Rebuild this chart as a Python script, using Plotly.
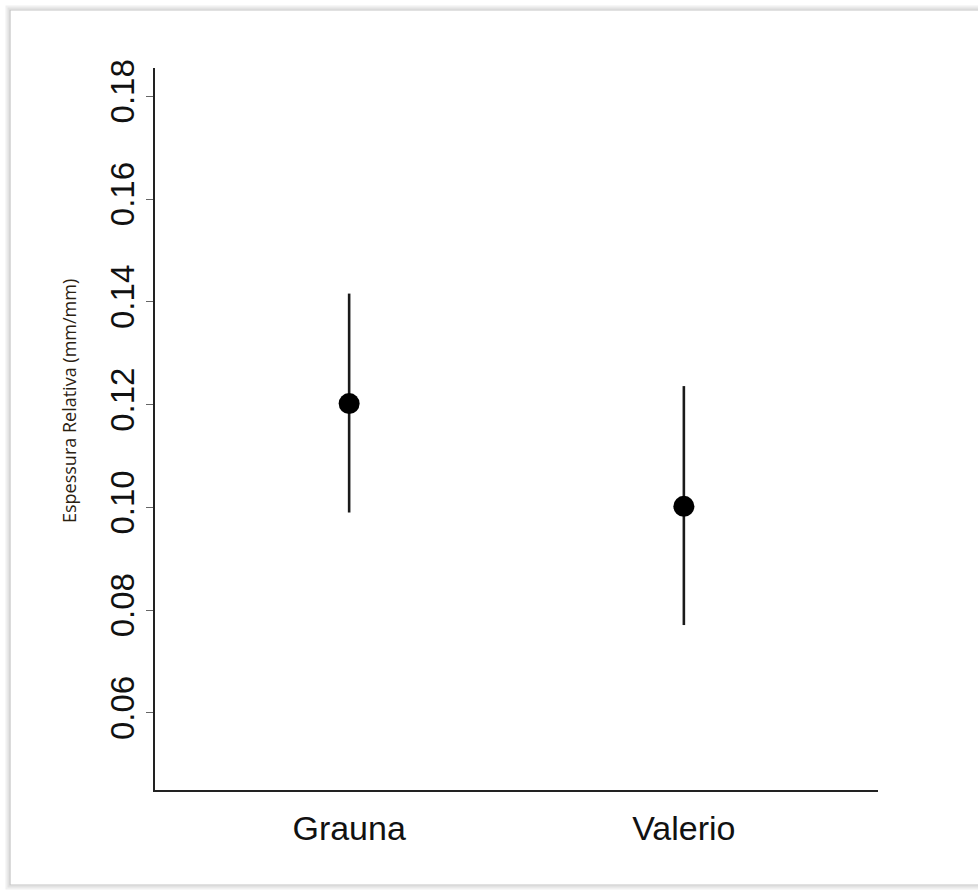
import plotly.graph_objects as go

# Data
categories = ["Grauna", "Valerio"]
means = [0.1202, 0.1002]
upper = [0.1416, 0.1236]
lower = [0.0990, 0.0771]
y_ticks = [0.06, 0.08, 0.10, 0.12, 0.14, 0.16, 0.18]
y_tick_text = ["0.06", "0.08", "0.10", "0.12", "0.14", "0.16", "0.18"]
y_title = "Espessura Relativa (mm/mm)"

err_plus = [u - m for u, m in zip(upper, means)]
err_minus = [m - l for m, l in zip(means, lower)]

W, H = 978, 890
L, R, T, B = 155, 100, 68, 100
pw, ph = W - L - R, H - T - B

def px(x):
    return (x - L) / pw

def py(y):
    return (H - B - y) / ph

fig = go.Figure()
fig.add_trace(go.Scatter(
    x=[0, 1], y=means,
    mode="markers",
    marker=dict(size=21, color="black"),
    error_y=dict(type="data", symmetric=False, array=err_plus, arrayminus=err_minus,
                 thickness=2.6, width=0, color="#1a1a1a"),
    showlegend=False,
))

# frame with soft shadow
for off, col, w in [(3, "#f0f0f0", 3), (1.5, "#e2e2e2", 2), (0, "#c4c4c4", 1.2)]:
    fig.add_shape(type="rect", xref="paper", yref="paper",
                  x0=px(10 - off), x1=px(995), y0=py(885 + off), y1=py(10 - off),
                  line=dict(color=col, width=w), layer="below")

# y-axis title (placed off-centre as in the original)
fig.add_annotation(text=y_title, xref="paper", yref="paper",
                   x=px(69), y=py(401), textangle=-90, showarrow=False,
                   xanchor="center", yanchor="middle",
                   font=dict(family="Open Sans, sans-serif", size=18, color="#2a2010"))

fig.update_layout(
    width=W, height=H,
    margin=dict(l=L, r=R, t=T, b=B),
    paper_bgcolor="white", plot_bgcolor="white",
    font=dict(family="Liberation Sans, Arial, sans-serif", color="#111"),
    xaxis=dict(
        range=[-0.58, 1.58],
        tickmode="array", tickvals=[0, 1], ticktext=categories,
        showgrid=False, zeroline=False,
        showline=True, linecolor="#222", linewidth=2,
        ticks="", tickfont=dict(size=34), ticklabelstandoff=7,
    ),
    yaxis=dict(
        range=[0.045, 0.1855],
        tickmode="array", tickvals=y_ticks, ticktext=y_tick_text,
        showgrid=False, zeroline=False,
        showline=True, linecolor="#222", linewidth=2,
        ticks="outside", ticklen=7, tickwidth=1, tickcolor="#666",
        tickangle=-90, tickfont=dict(size=33), ticklabelstandoff=-1,
    ),
)

fig.write_html("out.html")
